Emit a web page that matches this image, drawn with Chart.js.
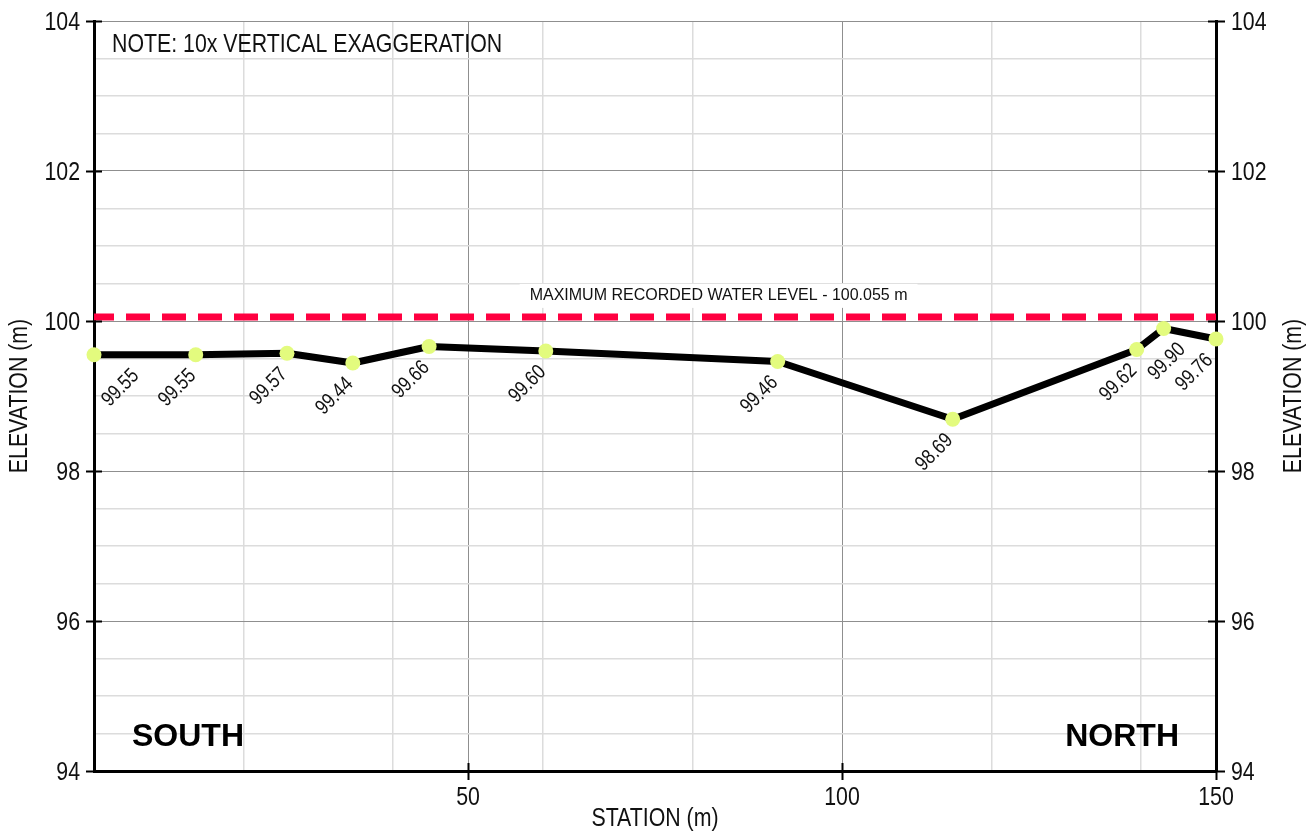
<!DOCTYPE html>
<html>
<head>
<meta charset="utf-8">
<script src="https://cdn.jsdelivr.net/npm/chart.js@4.4.1/dist/chart.umd.min.js"></script>
<style>
html,body{margin:0;padding:0;background:#fff;}
canvas{display:block;}
</style>
</head>
<body>
<canvas id="c" width="1315" height="834"></canvas>
<script>
// ---- data ----
const stations   = [0, 13.6, 25.8, 34.6, 44.8, 60.4, 91.4, 114.8, 139.4, 143.0, 150];
const elevations = [99.55, 99.55, 99.57, 99.44, 99.66, 99.60, 99.46, 98.69, 99.62, 99.90, 99.76];
const waterLevelStations = [0, 150];
const waterLevelValues   = [100.055, 100.055];
const waterLevelText = 'MAXIMUM RECORDED WATER LEVEL - 100.055 m';
const noteText = 'NOTE: 10x VERTICAL EXAGGERATION';
const xGridTicks  = [0, 20, 40, 50, 60, 80, 100, 120, 140, 150];
const xLabelTicks = [50, 100, 150];
const xMajorTicks = [50, 100];
const yLabelTicks = [94, 96, 98, 100, 102, 104];

// ---- styling ----
const REG = "'Liberation Sans',Arial,sans-serif";
const NARROW_SCALE = 0.82;   // emulate a condensed face
const MINOR = '#dcdcdc';
const MAJOR = '#8f8f8f';
const TEXT = '#111';

function narrowText(ctx, txt, x, y, size, align, baseline, rot) {
  ctx.save();
  ctx.translate(x, y);
  if (rot) ctx.rotate(rot);
  ctx.scale(NARROW_SCALE, 1);
  ctx.font = size + 'px ' + REG;
  ctx.textAlign = align;
  ctx.textBaseline = baseline || 'middle';
  ctx.fillStyle = TEXT;
  ctx.fillText(txt, 0, 0);
  ctx.restore();
}
function narrowWidth(ctx, txt, size) {
  ctx.save();
  ctx.font = size + 'px ' + REG;
  const w = ctx.measureText(txt).width * NARROW_SCALE;
  ctx.restore();
  return w;
}

const overlay = {
  id: 'overlay',
  beforeDraw(chart) {
    const ctx = chart.ctx;
    ctx.save();
    ctx.fillStyle = '#fff';
    ctx.fillRect(0, 0, chart.width, chart.height);
    ctx.restore();
  },
  beforeDatasetsDraw(chart) {
    const ctx = chart.ctx, ca = chart.chartArea;
    const xs = chart.scales.x, ys = chart.scales.y;
    ctx.save();
    narrowText(ctx, noteText, ca.left + 18, ca.top + 24, 26, 'left');
    ctx.font = '16px ' + REG;
    ctx.textAlign = 'center';
    ctx.textBaseline = 'middle';
    const wx = xs.getPixelForValue(83.5);
    const wy = ys.getPixelForValue(waterLevelValues[0]) - 21;
    const tw = ctx.measureText(waterLevelText).width;
    ctx.fillStyle = '#fff';
    ctx.fillRect(wx - tw / 2 - 10, wy - 12, tw + 20, 24);
    ctx.fillStyle = TEXT;
    ctx.fillText(waterLevelText, wx, wy);
    ctx.font = 'bold 32px ' + REG;
    ctx.fillStyle = '#000';
    ctx.textAlign = 'left';
    ctx.fillText('SOUTH', ca.left + 38, ca.bottom - 34);
    ctx.textAlign = 'right';
    ctx.fillText('NORTH', ca.right - 37, ca.bottom - 34);
    ctx.restore();
  },
  afterDatasetsDraw(chart) {
    const ctx = chart.ctx, ca = chart.chartArea;
    const meta = chart.getDatasetMeta(0);
    const th = Math.PI / 4, c = Math.cos(th), s = Math.sin(th);
    const SIZE = 21, H = 15, MIN_SEP = 27, GAP = 6;
    const placed = [];
    meta.data.forEach((pt, i) => {
      const txt = elevations[i].toFixed(2);
      const L = narrowWidth(ctx, txt, SIZE);
      let ax = pt.x - 3, ay = pt.y + 18;
      const minX = ax - L * c - (H / 2) * s;
      if (minX < ca.left + 6) ax += ca.left + 6 - minX;
      const maxX = ax + (H / 2) * s;
      if (maxX > ca.right - 1) ax -= maxX - (ca.right - 1);
      for (const p of placed) {
        const a = ax * c - ay * s, n = ax * s + ay * c;
        const ov = Math.min(a, p.a) - Math.max(a - L, p.a - p.L);
        const dn = n - p.n;
        if (ov > -GAP && Math.abs(dn) < MIN_SEP) {
          const alongClear = (p.a + GAP - (a - L)) / c;
          const perpClear = (MIN_SEP - dn) / s;
          const dx = Math.min(alongClear, perpClear);
          if (ax + dx + (H / 2) * s <= ca.right - 1) {
            ax += dx;
          } else {
            ay += (MIN_SEP - dn) / c;
          }
        }
      }
      placed.push({a: ax * c - ay * s, n: ax * s + ay * c, L});
      narrowText(ctx, txt, ax, ay, SIZE, 'right', 'middle', -th);
    });
  },
  afterDraw(chart) {
    const ctx = chart.ctx, ca = chart.chartArea;
    const xs = chart.scales.x, ys = chart.scales.y;
    ctx.save();
    ctx.strokeStyle = '#000';
    ctx.lineWidth = 2;
    ctx.beginPath();
    yLabelTicks.forEach(v => {
      const py = Math.round(ys.getPixelForValue(v)) + 0.5;
      ctx.moveTo(ca.left - 8, py); ctx.lineTo(ca.left + 8, py);
      ctx.moveTo(ca.right - 8, py); ctx.lineTo(ca.right + 9, py);
    });
    xLabelTicks.forEach(v => {
      const px = Math.round(xs.getPixelForValue(v)) + 0.5;
      ctx.moveTo(px, ca.bottom - 8); ctx.lineTo(px, ca.bottom + 9);
    });
    ctx.stroke();
    ctx.restore();
    yLabelTicks.forEach(v => {
      const py = ys.getPixelForValue(v) + 2;
      narrowText(ctx, String(v), ca.left - 14, py, 26, 'right');
      narrowText(ctx, String(v), ca.right + 15, py, 26, 'left');
    });
    xLabelTicks.forEach(v => {
      narrowText(ctx, String(v), xs.getPixelForValue(v), ca.bottom + 27, 26, 'center');
    });
    narrowText(ctx, 'STATION (m)', (ca.left + ca.right) / 2, 819, 26, 'center');
    const cy = (ca.top + ca.bottom) / 2;
    [20, 1294].forEach(tx => narrowText(ctx, 'ELEVATION (m)', tx, cy, 26, 'center', 'middle', -Math.PI / 2));
  }
};

new Chart(document.getElementById('c'), {
  type: 'line',
  data: {
    datasets: [
      {
        label: 'Ground profile',
        data: stations.map((x, i) => ({x, y: elevations[i]})),
        borderColor: '#000',
        borderWidth: 7,
        borderJoinStyle: 'round',
        borderCapStyle: 'round',
        tension: 0,
        pointRadius: 7.5,
        pointBackgroundColor: '#e3fb7e',
        pointBorderWidth: 0,
        clip: false
      },
      {
        label: 'Maximum recorded water level',
        data: waterLevelStations.map((x, i) => ({x, y: waterLevelValues[i]})),
        borderColor: '#ff0040',
        borderWidth: 7,
        borderDash: [24, 12],
        borderDashOffset: 4,
        borderCapStyle: 'butt',
        pointRadius: 0,
        tension: 0,
        clip: 0
      }
    ]
  },
  options: {
    responsive: false,
    animation: false,
    events: [],
    layout: {padding: {top: 21, left: 0, right: 0, bottom: 0}},
    plugins: {legend: {display: false}, tooltip: {enabled: false}},
    scales: {
      x: {
        type: 'linear',
        min: 0, max: 150,
        afterBuildTicks: s => { s.ticks = xGridTicks.map(v => ({value: v})); },
        afterFit: s => { s.height = 63; },
        ticks: {display: false},
        grid: {
          drawTicks: false,
          color: ctx => {
            const v = ctx.tick && ctx.tick.value;
            if (v === 0 || v === 150) return 'rgba(0,0,0,0)';
            return xMajorTicks.includes(v) ? MAJOR : MINOR;
          },
          lineWidth: ctx => (ctx.tick && xMajorTicks.includes(ctx.tick.value)) ? 1 : 1.5
        },
        border: {color: '#000', width: 3}
      },
      y: {
        type: 'linear',
        position: 'left',
        min: 94, max: 104,
        afterFit: s => { s.width = 94; },
        ticks: {display: false, stepSize: 0.5, autoSkip: false},
        grid: {
          drawTicks: false,
          color: ctx => {
            const v = ctx.tick && ctx.tick.value;
            if (v === 94) return 'rgba(0,0,0,0)';
            return yLabelTicks.includes(v) ? MAJOR : MINOR;
          },
          lineWidth: ctx => (ctx.tick && yLabelTicks.includes(ctx.tick.value)) ? 1 : 1.5
        },
        border: {color: '#000', width: 3}
      },
      y2: {
        type: 'linear',
        position: 'right',
        min: 94, max: 104,
        afterFit: s => { s.width = 99; },
        ticks: {display: false},
        grid: {drawOnChartArea: false, drawTicks: false},
        border: {color: '#000', width: 3}
      }
    }
  },
  plugins: [overlay]
});
</script>
</body>
</html>
